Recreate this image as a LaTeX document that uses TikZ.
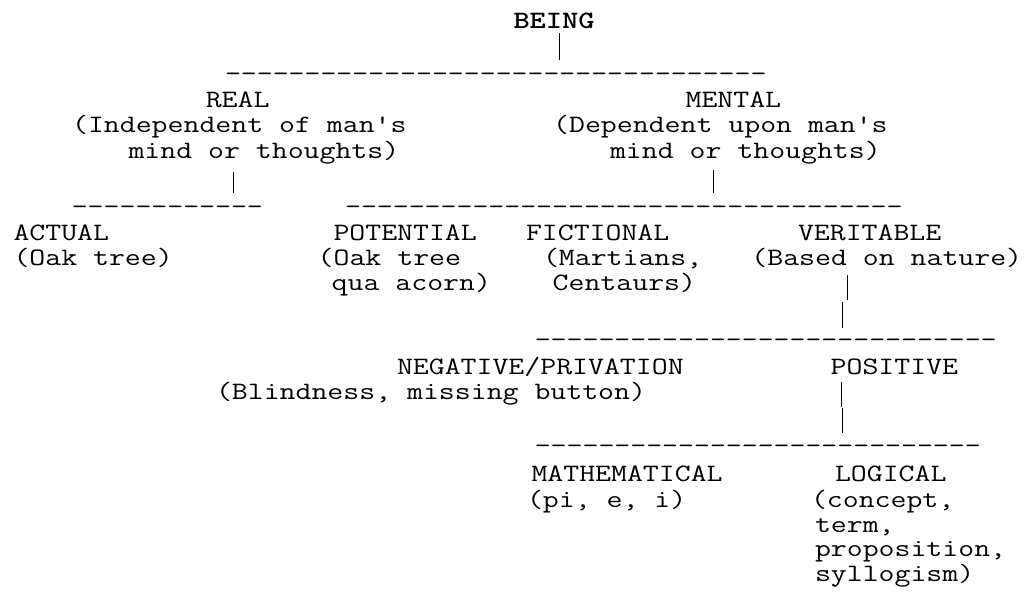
\documentclass[tikz,border=0pt]{standalone}
\usepackage{graphicx}
\newcommand{\sx}[1]{\scalebox{1.237}[1]{#1}}
\newcommand{\hy}[1]{\ifnum#1>0 -\kern0pt\expandafter\hy\expandafter{\the\numexpr#1-1\relax}\fi}
\begin{document}
\begin{tikzpicture}[x=1pt,y=-1pt,
  t/.style={anchor=base west,inner sep=0pt,outer sep=0pt,
    font=\fontsize{25}{26.6}\selectfont\ttfamily},
  vbar/.style={anchor=north,fill=black,draw=none,inner sep=0pt,outer sep=0pt,
    minimum width=1.6pt}]
\useasboundingbox (0,0) rectangle (1024,595);
% line 0
\node[t] (being) at (513.5,28) {\sx{\bfseries BEING}};
% line 1
\node[vbar,minimum height=26.7pt] (bar1) at (559.5,33.3) {};
% line 2
\node[t] (dash1) at (225,81.5) {\sx{\hy{34}}};
% line 3
\node[t] (real) at (205.8,107) {\sx{REAL}};
\node[t] (mental) at (685.6,107) {\sx{MENTAL}};
% line 4
\node[t] (realA) at (72.1,132.5) {\sx{(Independent of man\textquotesingle s}};
\node[t] (mentalA) at (553.2,132.5) {\sx{(Dependent upon man\textquotesingle s}};
% line 5
\node[t] (realB) at (128.5,158) {\sx{mind or thoughts)}};
\node[t] (mentalB) at (610,158) {\sx{mind or thoughts)}};
% line 6
\node[vbar,minimum height=21.6pt] (bar2) at (233.5,171.7) {};
\node[vbar,minimum height=23.3pt] (bar3) at (713.5,170) {};
% line 7
\node[t] (dash2) at (71.8,214.5) {\sx{\hy{12}}};
\node[t] (dash3) at (345.1,214.5) {\sx{\hy{35}}};
% line 8
\node[t] (actual) at (13.5,240.5) {\sx{ACTUAL}};
\node[t] (potential) at (333.5,240.5) {\sx{POTENTIAL}};
\node[t] (fictional) at (526,240.5) {\sx{FICTIONAL}};
\node[t] (veritable) at (798,240.5) {\sx{VERITABLE}};
% line 9
\node[t] (actualA) at (13.5,265.5) {\sx{(Oak tree)}};
\node[t] (potentialA) at (317.7,265.5) {\sx{(Oak tree}};
\node[t] (fictionalA) at (543,265.5) {\sx{(Martians,}};
\node[t] (veritableA) at (751.4,265.5) {\sx{(Based on nature)}};
% line 10
\node[t] (potentialB) at (331.7,290.5) {\sx{qua acorn)}};
\node[t] (fictionalB) at (552.7,290.5) {\sx{Centaurs)}};
\node[vbar,minimum height=25pt] (bar4) at (847.5,275) {};
% line 11
\node[vbar,minimum height=26.6pt] (bar5) at (842.5,301.7) {};
% line 12
\node[t] (dash4) at (534.8,347.5) {\sx{\hy{29}}};
% line 13
\node[t] (negative) at (397,374.1) {\sx{NEGATIVE/PRIVATION}};
\node[t] (positive) at (830.7,374.1) {\sx{POSITIVE}};
% line 14
\node[t] (negativeA) at (216,399) {\sx{(Blindness, missing button)}};
\node[vbar,minimum height=25pt] (bar6) at (841.5,381.7) {};
% line 15
\node[vbar,minimum height=25pt] (bar7) at (842.5,408.3) {};
% line 16
\node[t] (dash5) at (534.8,453.5) {\sx{\hy{28}}};
% line 17
\node[t] (math) at (531.5,481.7) {\sx{MATHEMATICAL}};
\node[t] (logical) at (835,481.7) {\sx{LOGICAL}};
% line 18
\node[t] (mathA) at (527,507.5) {\sx{(pi, e, i)}};
\node[t] (logicalA) at (811,507.5) {\sx{(concept,}};
% lines 19-21
\node[t] (logicalB) at (815,532.3) {\sx{term,}};
\node[t] (logicalC) at (815,556.8) {\sx{proposition,}};
\node[t] (logicalD) at (815,581) {\sx{syllogism)}};
\end{tikzpicture}
\end{document}
